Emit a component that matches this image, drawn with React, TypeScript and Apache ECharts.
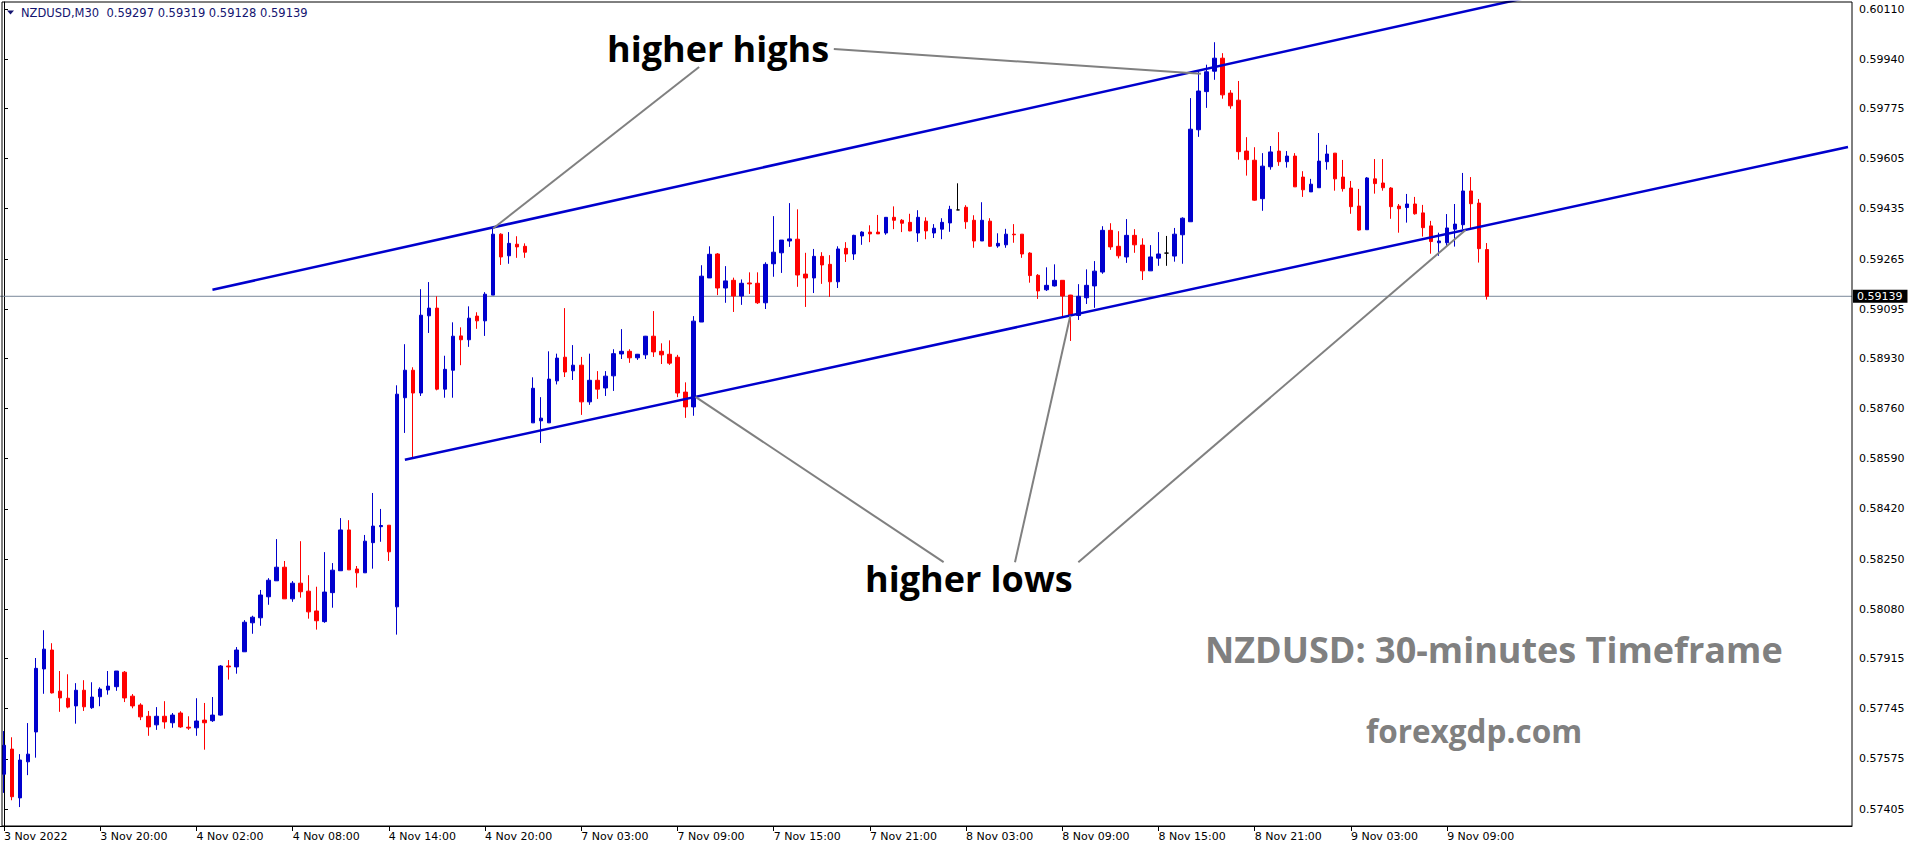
import React, { useEffect, useRef } from "react";
import * as echarts from "echarts";

const SYMBOL = "NZDUSD";
const PERIOD = "M30";

// trading sessions shown (30-minute bars)
const sessions = [
  { day: "3 Nov", startHour: 14, bars: 20 },
  { day: "4 Nov", startHour: 0, bars: 46 },
  { day: "7 Nov", startHour: 0, bars: 48 },
  { day: "8 Nov", startHour: 0, bars: 48 },
  { day: "9 Nov", startHour: 0, bars: 24 },
];

const xTickLabels = [
  "3 Nov 2022", "3 Nov 20:00", "4 Nov 02:00", "4 Nov 08:00", "4 Nov 14:00", "4 Nov 20:00",
  "7 Nov 03:00", "7 Nov 09:00", "7 Nov 15:00", "7 Nov 21:00", "8 Nov 03:00", "8 Nov 09:00",
  "8 Nov 15:00", "8 Nov 21:00", "9 Nov 03:00", "9 Nov 09:00",
];
const X_TICK_STEP = 12;

const yTickValues = [
  0.60110, 0.59940, 0.59775, 0.59605, 0.59435, 0.59265, 0.59095, 0.58930, 0.58760,
  0.58590, 0.58420, 0.58250, 0.58080, 0.57915, 0.57745, 0.57575, 0.57405,
];
const Y_MIN = 0.57348;
const Y_MAX = 0.60134;
const SLOTS = 231;

const opens = [
  0.57523, 0.57608, 0.57443, 0.57565, 0.57666, 0.57879, 0.57943, 0.57804, 0.57780, 0.57754,
  0.57807, 0.57748, 0.57785, 0.57808, 0.57819, 0.57868, 0.57787, 0.57757, 0.57719, 0.57690,
  0.57719, 0.57697, 0.57730, 0.57682, 0.57680, 0.57706, 0.57704, 0.57723, 0.57889, 0.57886,
  0.57937, 0.58035, 0.58052, 0.58123, 0.58177, 0.58223, 0.58116, 0.58169, 0.58142, 0.58075,
  0.58039, 0.58137, 0.58211, 0.58349, 0.58217, 0.58204, 0.58306, 0.58360, 0.58365, 0.58089,
  0.58796, 0.58889, 0.58812, 0.59073, 0.59099, 0.58825, 0.58889, 0.59005, 0.58992, 0.59072,
  0.59056, 0.59143, 0.59349, 0.59276, 0.59315, 0.59308, 0.58711, 0.58718, 0.58711, 0.58853,
  0.58933, 0.58887, 0.58906, 0.58782, 0.58855, 0.58829, 0.58870, 0.58944, 0.58953, 0.58931,
  0.58941, 0.59004, 0.58953, 0.58943, 0.58933, 0.58815, 0.58765, 0.59052, 0.59201, 0.59282,
  0.59167, 0.59193, 0.59140, 0.59184, 0.59183, 0.59117, 0.59249, 0.59286, 0.59326, 0.59332,
  0.59214, 0.59201, 0.59274, 0.59247, 0.59188, 0.59301, 0.59282, 0.59343, 0.59356, 0.59356,
  0.59353, 0.59406, 0.59396, 0.59389, 0.59353, 0.59393, 0.59353, 0.59366, 0.59387, 0.59431,
  0.59440, 0.59396, 0.59326, 0.59393, 0.59309, 0.59313, 0.59349, 0.59349, 0.59285, 0.59210,
  0.59161, 0.59174, 0.59193, 0.59143, 0.59074, 0.59134, 0.59174, 0.59221, 0.59362, 0.59308,
  0.59272, 0.59345, 0.59312, 0.59225, 0.59268, 0.59285, 0.59275, 0.59347, 0.59391, 0.59702,
  0.59831, 0.59900, 0.59944, 0.59826, 0.59802, 0.59630, 0.59599, 0.59469, 0.59577, 0.59630,
  0.59594, 0.59613, 0.59542, 0.59492, 0.59506, 0.59594, 0.59623, 0.59542, 0.59505, 0.59444,
  0.59364, 0.59536, 0.59522, 0.59505, 0.59444, 0.59439, 0.59451, 0.59421, 0.59377, 0.59320,
  0.59320, 0.59366, 0.59381, 0.59495, 0.59454, 0.59297,
];

const highs = [
  0.57669, 0.57648, 0.57591, 0.57696, 0.57916, 0.58010, 0.57966, 0.57872, 0.57861, 0.57831,
  0.57841, 0.57834, 0.57817, 0.57872, 0.57872, 0.57872, 0.57794, 0.57763, 0.57737, 0.57750,
  0.57770, 0.57730, 0.57736, 0.57719, 0.57780, 0.57764, 0.57784, 0.57892, 0.57909, 0.57953,
  0.58044, 0.58059, 0.58146, 0.58186, 0.58318, 0.58244, 0.58176, 0.58311, 0.58196, 0.58157,
  0.58274, 0.58237, 0.58389, 0.58382, 0.58227, 0.58332, 0.58474, 0.58420, 0.58365, 0.58838,
  0.58977, 0.58899, 0.59163, 0.59187, 0.59139, 0.58938, 0.59051, 0.59034, 0.59105, 0.59085,
  0.59153, 0.59368, 0.59352, 0.59356, 0.59342, 0.59318, 0.58865, 0.58798, 0.58953, 0.58945,
  0.59099, 0.58974, 0.58934, 0.58945, 0.58886, 0.58886, 0.58960, 0.59028, 0.58960, 0.58944,
  0.59005, 0.59089, 0.58980, 0.58990, 0.58941, 0.58848, 0.59072, 0.59244, 0.59308, 0.59285,
  0.59241, 0.59202, 0.59196, 0.59220, 0.59220, 0.59254, 0.59410, 0.59329, 0.59454, 0.59433,
  0.59286, 0.59299, 0.59288, 0.59278, 0.59308, 0.59322, 0.59347, 0.59359, 0.59379, 0.59414,
  0.59407, 0.59443, 0.59400, 0.59418, 0.59430, 0.59406, 0.59383, 0.59403, 0.59445, 0.59521,
  0.59447, 0.59413, 0.59457, 0.59403, 0.59352, 0.59367, 0.59383, 0.59349, 0.59288, 0.59214,
  0.59237, 0.59247, 0.59193, 0.59144, 0.59180, 0.59230, 0.59258, 0.59376, 0.59386, 0.59359,
  0.59400, 0.59366, 0.59335, 0.59312, 0.59356, 0.59343, 0.59370, 0.59406, 0.59809, 0.59900,
  0.59922, 0.59998, 0.59961, 0.59836, 0.59867, 0.59677, 0.59643, 0.59623, 0.59647, 0.59694,
  0.59630, 0.59623, 0.59562, 0.59536, 0.59691, 0.59651, 0.59623, 0.59600, 0.59529, 0.59502,
  0.59542, 0.59603, 0.59603, 0.59508, 0.59451, 0.59485, 0.59475, 0.59448, 0.59394, 0.59354,
  0.59417, 0.59451, 0.59556, 0.59542, 0.59468, 0.59319,
];

const lows = [
  0.57460, 0.57435, 0.57412, 0.57520, 0.57579, 0.57795, 0.57796, 0.57734, 0.57746, 0.57694,
  0.57737, 0.57744, 0.57753, 0.57792, 0.57805, 0.57767, 0.57746, 0.57706, 0.57653, 0.57673,
  0.57677, 0.57680, 0.57680, 0.57673, 0.57653, 0.57606, 0.57700, 0.57721, 0.57843, 0.57863,
  0.57937, 0.57998, 0.58025, 0.58096, 0.58177, 0.58116, 0.58106, 0.58120, 0.58049, 0.58012,
  0.58035, 0.58086, 0.58211, 0.58214, 0.58154, 0.58204, 0.58218, 0.58309, 0.58244, 0.57995,
  0.58677, 0.58590, 0.58802, 0.59015, 0.58821, 0.58796, 0.58796, 0.58906, 0.58968, 0.59029,
  0.59005, 0.59143, 0.59245, 0.59249, 0.59269, 0.59269, 0.58711, 0.58643, 0.58711, 0.58841,
  0.58866, 0.58856, 0.58738, 0.58772, 0.58792, 0.58802, 0.58819, 0.58927, 0.58914, 0.58924,
  0.58927, 0.58934, 0.58910, 0.58907, 0.58798, 0.58728, 0.58735, 0.59052, 0.59201, 0.59143,
  0.59117, 0.59086, 0.59110, 0.59147, 0.59113, 0.59096, 0.59205, 0.59218, 0.59306, 0.59171,
  0.59103, 0.59150, 0.59181, 0.59137, 0.59167, 0.59255, 0.59262, 0.59313, 0.59322, 0.59350,
  0.59347, 0.59366, 0.59356, 0.59359, 0.59323, 0.59332, 0.59336, 0.59332, 0.59357, 0.59431,
  0.59367, 0.59303, 0.59326, 0.59306, 0.59303, 0.59303, 0.59320, 0.59269, 0.59185, 0.59130,
  0.59157, 0.59172, 0.59069, 0.58988, 0.59059, 0.59113, 0.59100, 0.59215, 0.59296, 0.59267,
  0.59252, 0.59286, 0.59194, 0.59225, 0.59242, 0.59242, 0.59256, 0.59249, 0.59391, 0.59678,
  0.59776, 0.59871, 0.59807, 0.59773, 0.59601, 0.59547, 0.59462, 0.59428, 0.59567, 0.59580,
  0.59574, 0.59509, 0.59475, 0.59492, 0.59506, 0.59567, 0.59496, 0.59493, 0.59418, 0.59361,
  0.59364, 0.59486, 0.59496, 0.59401, 0.59354, 0.59388, 0.59415, 0.59341, 0.59283, 0.59276,
  0.59307, 0.59307, 0.59366, 0.59363, 0.59253, 0.59128,
];

const closes = [
  0.57621, 0.57447, 0.57571, 0.57591, 0.57881, 0.57946, 0.57798, 0.57781, 0.57750, 0.57807,
  0.57751, 0.57784, 0.57811, 0.57821, 0.57872, 0.57781, 0.57754, 0.57717, 0.57683, 0.57719,
  0.57700, 0.57723, 0.57683, 0.57679, 0.57703, 0.57697, 0.57723, 0.57889, 0.57886, 0.57943,
  0.58037, 0.58054, 0.58129, 0.58179, 0.58223, 0.58116, 0.58169, 0.58140, 0.58072, 0.58042,
  0.58139, 0.58213, 0.58349, 0.58214, 0.58204, 0.58311, 0.58362, 0.58364, 0.58275, 0.58808,
  0.58889, 0.58812, 0.59075, 0.59099, 0.58825, 0.58892, 0.59004, 0.58992, 0.59065, 0.59056,
  0.59146, 0.59349, 0.59272, 0.59318, 0.59306, 0.59288, 0.58828, 0.58727, 0.58859, 0.58930,
  0.58883, 0.58906, 0.58782, 0.58855, 0.58825, 0.58869, 0.58945, 0.58953, 0.58931, 0.58943,
  0.59004, 0.58951, 0.58941, 0.58913, 0.58812, 0.58765, 0.59055, 0.59207, 0.59281, 0.59167,
  0.59191, 0.59140, 0.59183, 0.59181, 0.59117, 0.59247, 0.59288, 0.59329, 0.59333, 0.59211,
  0.59201, 0.59274, 0.59245, 0.59188, 0.59299, 0.59282, 0.59345, 0.59356, 0.59350, 0.59350,
  0.59406, 0.59396, 0.59386, 0.59360, 0.59406, 0.59360, 0.59369, 0.59389, 0.59433, 0.59431,
  0.59391, 0.59326, 0.59396, 0.59308, 0.59318, 0.59349, 0.59347, 0.59282, 0.59209, 0.59157,
  0.59176, 0.59193, 0.59140, 0.59074, 0.59139, 0.59176, 0.59224, 0.59362, 0.59306, 0.59276,
  0.59345, 0.59313, 0.59225, 0.59272, 0.59282, 0.59285, 0.59349, 0.59403, 0.59704, 0.59833,
  0.59898, 0.59944, 0.59820, 0.59783, 0.59628, 0.59601, 0.59464, 0.59579, 0.59627, 0.59594,
  0.59613, 0.59509, 0.59499, 0.59518, 0.59596, 0.59620, 0.59536, 0.59503, 0.59442, 0.59363,
  0.59539, 0.59520, 0.59506, 0.59442, 0.59435, 0.59451, 0.59418, 0.59371, 0.59324, 0.59326,
  0.59370, 0.59383, 0.59495, 0.59452, 0.59300, 0.59139,
];

// trend lines: [barIndex, price]
const upperChannel = [[26, 0.59161], [230, 0.6039]];
const lowerChannel = [[50, 0.58586], [230, 0.59644]];
// grey pointer lines from the annotations to the touch points
const pointerLines = [
  [[86.7, 0.59914], [61, 0.59368]],
  [[103.5, 0.59975], [149.3, 0.59891]],
  [[117.2, 0.5824], [86.25, 0.58799]],
  [[126.1, 0.5824], [133, 0.59073]],
  [[134, 0.5824], [182.3, 0.59363]],
];

const annotations = [
  { text: "higher highs", x: 607, y: 48, size: 36, color: "#000000" },
  { text: "higher lows", x: 865, y: 578, size: 36, color: "#000000" },
  { text: "NZDUSD: 30-minutes Timeframe", x: 1205, y: 649, size: 36, color: "#808080" },
  { text: "forexgdp.com", x: 1366, y: 730, size: 31.5, color: "#808080" },
];

const BLUE = "#0000CD";
const RED = "#FF0000";
const AXIS_FONT = "DejaVu Sans";

const categories: string[] = [];
sessions.forEach((s) => {
  for (let k = 0; k < s.bars; k++) {
    const m = s.startHour * 60 + k * 30;
    const hh = String(Math.floor(m / 60)).padStart(2, "0");
    const mm = String(m % 60).padStart(2, "0");
    categories.push(`${s.day} ${hh}:${mm}`);
  }
});
while (categories.length < SLOTS) categories.push(`slot ${categories.length}`);

const fmt = (v: number) => v.toFixed(5);

export default function App() {
  const ref = useRef<HTMLDivElement>(null);
  useEffect(() => {
    if (!ref.current) return;
    const chart = echarts.init(ref.current, undefined, { renderer: "svg" });
    const last = opens.length - 1;
    const lastClose = closes[last];
    const candleData = opens.map((o, i) => [o, closes[i], lows[i], highs[i]]);
    const showTick = (index: number) =>
      index % X_TICK_STEP === 0 && index / X_TICK_STEP < xTickLabels.length;

    const lineSeries: any[] = [];
    // current bid line with its price box on the axis
    lineSeries.push({
      type: "line",
      xAxisIndex: 1,
      data: [
        [-0.5, lastClose],
        [SLOTS - 0.5, lastClose],
      ],
      symbol: "none",
      clip: false,
      silent: true,
      lineStyle: { color: "#7a8899", width: 1 },
      endLabel: {
        show: true,
        distance: 1,
        formatter: () => fmt(lastClose),
        backgroundColor: "#000000",
        color: "#ffffff",
        padding: [1, 5, 1, 4],
        fontSize: 11,
        fontFamily: AXIS_FONT,
      },
      z: 2,
    });
    [upperChannel, lowerChannel].forEach((d) =>
      lineSeries.push({
        type: "line",
        xAxisIndex: 1,
        data: d,
        symbol: "none",
        clip: true,
        silent: true,
        lineStyle: { color: BLUE, width: 2.5 },
        z: 4,
      })
    );
    pointerLines.forEach((d) =>
      lineSeries.push({
        type: "line",
        xAxisIndex: 1,
        data: d,
        symbol: "none",
        clip: true,
        silent: true,
        lineStyle: { color: "#808080", width: 2 },
        z: 5,
      })
    );

    const header = `${SYMBOL},${PERIOD}\u00a0\u00a0${fmt(opens[last])} ${fmt(highs[last])} ${fmt(
      lows[last]
    )} ${fmt(closes[last])}`;

    chart.setOption({
      animation: false,
      backgroundColor: "#ffffff",
      textStyle: { fontFamily: AXIS_FONT },
      grid: { left: 0, top: 2, right: 64, bottom: 24, containLabel: false },
      xAxis: [
        {
          type: "category",
          data: categories,
          boundaryGap: true,
          axisLine: { show: true, lineStyle: { color: "#000", width: 1 } },
          axisTick: {
            show: true,
            alignWithLabel: true,
            interval: showTick,
            length: 5,
            lineStyle: { color: "#000" },
          },
          axisLabel: {
            interval: showTick,
            formatter: (_v: string, index: number) => xTickLabels[index / X_TICK_STEP] || "",
            align: "left",
            margin: 5,
            color: "#000",
            fontSize: 11,
            fontFamily: AXIS_FONT,
          },
          splitLine: { show: false },
        },
        {
          type: "value",
          min: -0.5,
          max: SLOTS - 0.5,
          show: false,
        },
      ],
      yAxis: {
        type: "value",
        position: "right",
        min: Y_MIN,
        max: Y_MAX,
        axisLine: { show: true, lineStyle: { color: "#000", width: 1 } },
        axisTick: {
          show: true,
          length: 4,
          customValues: yTickValues,
          lineStyle: { color: "#000" },
        },
        axisLabel: {
          customValues: yTickValues,
          formatter: (v: number) => fmt(v),
          margin: 7,
          color: "#000",
          fontSize: 11,
          fontFamily: AXIS_FONT,
        },
        splitLine: { show: false },
      },
      series: [
        {
          type: "candlestick",
          xAxisIndex: 0,
          data: candleData,
          barWidth: 4,
          clip: true,
          silent: true,
          itemStyle: {
            color: BLUE,
            color0: RED,
            borderColor: BLUE,
            borderColor0: RED,
            borderColorDoji: "#000000",
            borderWidth: 1,
          },
          z: 3,
        },
        ...lineSeries,
      ],
      graphic: [
        {
          type: "rect",
          shape: { x: 2, y: 2, width: 1850, height: 824 },
          style: { fill: "none", stroke: "#000", lineWidth: 1 },
          silent: true,
          z: 10,
        },
        {
          type: "polygon",
          shape: { points: [[7, 10.5], [14, 10.5], [10.5, 14.5]] },
          style: { fill: "#141470" },
          silent: true,
          z: 10,
        },
        {
          type: "text",
          x: 21,
          y: 12.5,
          style: {
            text: header,
            font: `11.5px "${AXIS_FONT}"`,
            fill: "#141470",
            align: "left",
            verticalAlign: "middle",
          },
          silent: true,
          z: 10,
        },
        ...annotations.map((a) => ({
          type: "text",
          x: a.x,
          y: a.y,
          style: {
            text: a.text,
            font: `bold ${a.size}px "Open Sans"`,
            fill: a.color,
            align: "left",
            verticalAlign: "middle",
          },
          silent: true,
          z: 10,
        })),
      ],
    });
    return () => chart.dispose();
  }, []);
  return (
    <div
      ref={ref}
      style={{ position: "absolute", left: 0, top: 0, width: 1916, height: 850, background: "#fff" }}
    />
  );
}
